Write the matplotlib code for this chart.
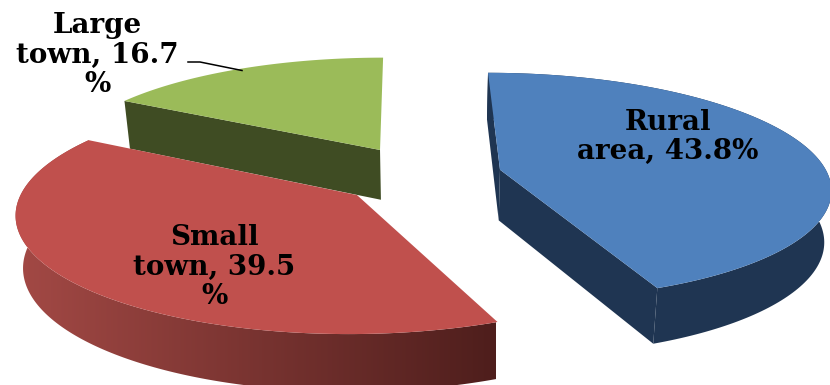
import numpy as np
import matplotlib
matplotlib.use("Agg")
import matplotlib.pyplot as plt
from matplotlib.colors import LinearSegmentedColormap
from matplotlib.patches import Polygon

# slices, clockwise from 12 o'clock
names = ["Rural area", "Small town", "Large town"]
shares = [43.8, 39.5, 16.7]
label_texts = ["Rural\narea, 43.8%", "Small\ntown, 39.5\n%", "Large\ntown, 16.7\n%"]

top_colors = ["#4F81BD", "#C0504D", "#9BBB59"]
side_colors = ["#1F3552", None, "#3F4C23"]
# exploded slice tips on the pie plane
tips = [(0.2916, 0.0), (-0.1427, -0.221), (-0.0787, 0.183)]
label_pos = [(668, 137), (214, 267), (97, 55)]

red_side = LinearSegmentedColormap.from_list("red_side", ["#A54A46", "#4E1E1C"])


def project(x, y):
    """Perspective view of the pie plane, in pixel coordinates."""
    d = 5342 / (y + 6.94)
    return 405 + x * d / 2.363, d - 600


def drop(px, py):
    """Lower rim of the 3D slices, below a point on the top face."""
    return px - 0.018 * (px - 430), py + 43.5 + 0.042 * py


def draw_slice(ax, start, share, color, side, tip):
    end = start + share * 3.6
    cx, cy = tip

    angles = np.radians(np.linspace(start, end, 160))
    ax_x, ax_y = project(cx + np.sin(angles), cy + np.cos(angles))
    apex = project(cx, cy)
    back_slice = start > 270

    # flat cut faces, the far one of a back slice stays hidden
    if side:
        for i in [0, -1]:
            if back_slice and i == -1:
                continue
            a = (ax_x[i], ax_y[i])
            quad = [apex, a, drop(*a), drop(*apex)]
            ax.add_patch(Polygon(quad, fc=side, ec="none"))

    # rounded rim, a slice at the back never shows it
    if not back_slice:
        bx, by = drop(ax_x, ax_y)
        rim = list(zip(ax_x, ax_y)) + list(zip(bx[::-1], by[::-1]))
        if side:
            ax.add_patch(Polygon(rim, fc=side, ec="none"))
        else:
            patch = Polygon(rim, fc="none", ec="none")
            ax.add_patch(patch)
            img = ax.imshow(np.linspace(0, 1, 256)[None, :], cmap=red_side, aspect="auto",
                            extent=[5, 495, 385, 0], zorder=1)
            img.set_clip_path(patch)

    top = [apex] + list(zip(ax_x, ax_y))
    ax.add_patch(Polygon(top, fc=color, ec="none"))


fig = plt.figure(figsize=(8.3, 3.85), dpi=100)
ax = fig.add_axes([0, 0, 1, 1])

starts = np.cumsum([0] + shares[:-1]) * 3.6
# back slice first so the front ones overlap it
for i in [2, 0, 1]:
    draw_slice(ax, starts[i], shares[i], top_colors[i], side_colors[i], tips[i])

ax.set_xlim(0, 830)
ax.set_ylim(385, 0)
ax.axis("off")

for text, (x, y) in zip(label_texts, label_pos):
    ax.text(x, y, text, ha="center", va="center", multialignment="center",
            family="DejaVu Serif", weight="bold", fontsize=20, color="black", linespacing=1.13,
            zorder=5)

# leader line for the small slice
ax.plot([188, 200, 242], [62, 62, 70.5], color="black", lw=1.1)

fig.savefig("out.png", dpi=100)
